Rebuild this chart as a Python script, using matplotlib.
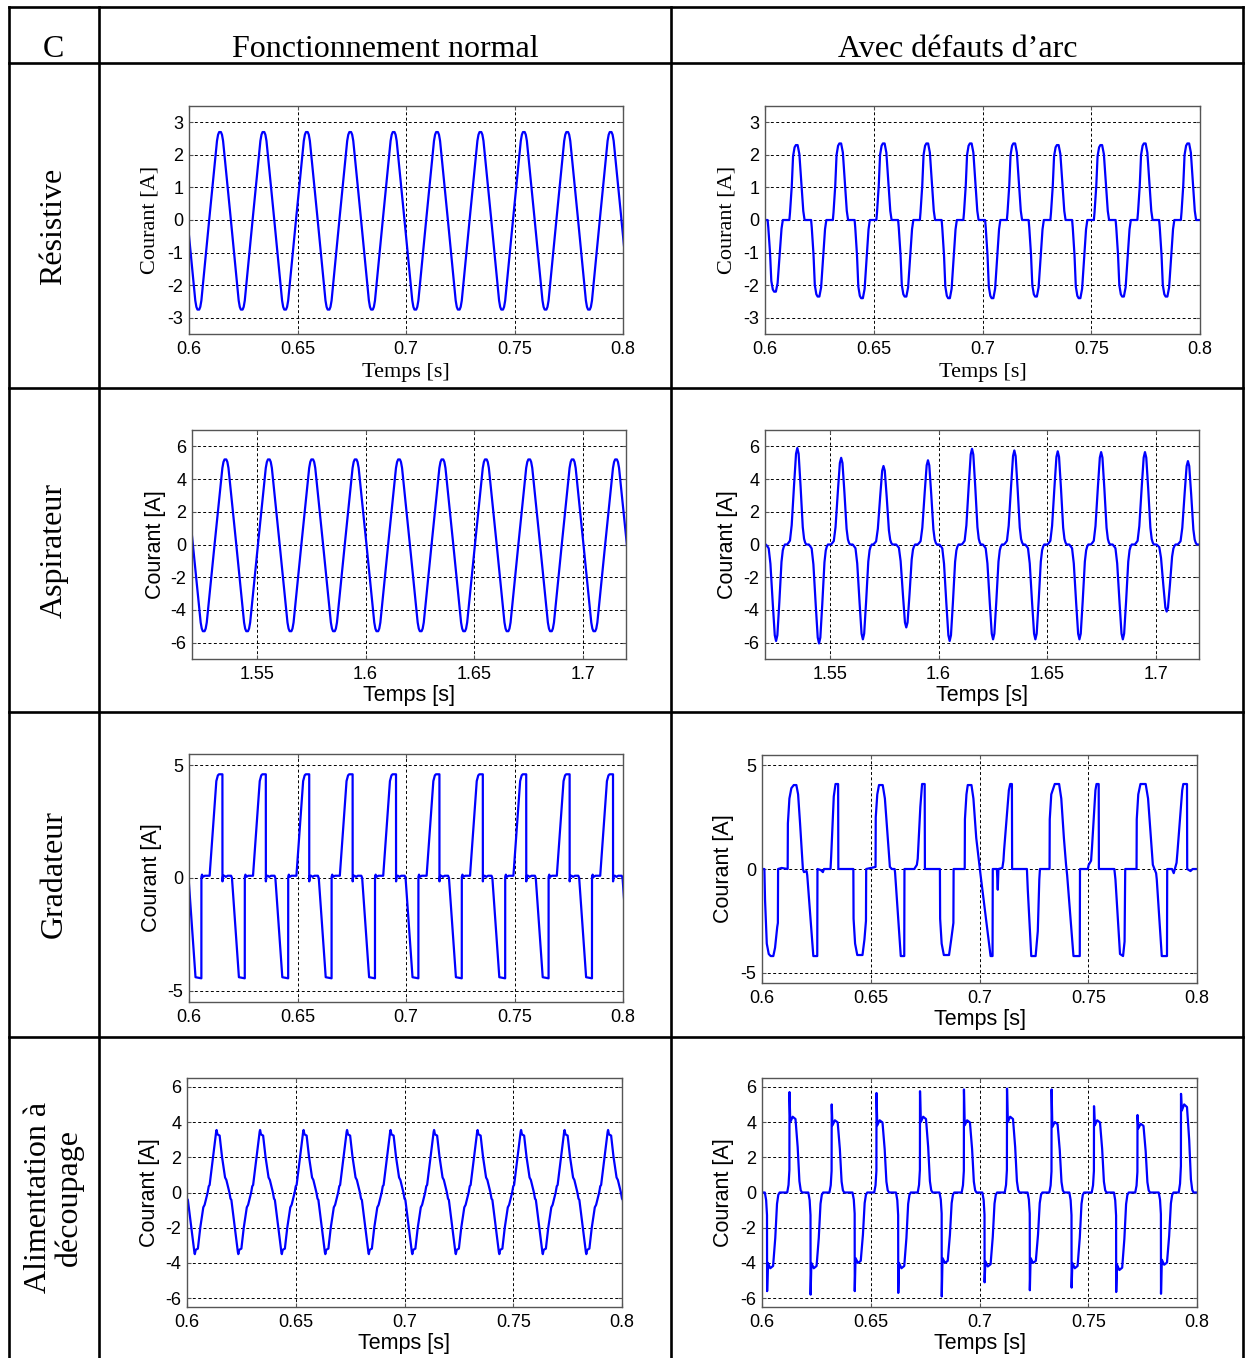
"""Courants de charge : fonctionnement normal / avec défauts d'arc (tableau 4x2)."""

import numpy as np
import matplotlib

matplotlib.use("Agg")
import matplotlib.pyplot as plt
from matplotlib.lines import Line2D

W, H = 1245, 1358
SERIF = "Liberation Serif"
SANS = "Liberation Sans"
BLUE = "#0000ff"
HALF = 0.01  # half period at 50 Hz

plt.rcParams["axes.unicode_minus"] = False

# ---------------------------------------------------------------- table text
col_titles = ["C", "Fonctionnement normal", "Avec défauts d’arc"]
row_titles = ["Résistive", "Aspirateur", "Gradateur", "Alimentation à\ndécoupage"]
ylabel_txt = "Courant [A]"
xlabel_txt = "Temps [s]"

# ---------------------------------------------------------------- ticks
t06_ticks = [0.6, 0.65, 0.7, 0.75, 0.8]
t06_labels = ["0.6", "0.65", "0.7", "0.75", "0.8"]
t15_ticks = [1.55, 1.6, 1.65, 1.7]
t15_labels = ["1.55", "1.6", "1.65", "1.7"]
y3_ticks = [-3, -2, -1, 0, 1, 2, 3]
y6_ticks = [-6, -4, -2, 0, 2, 4, 6]
y5_ticks = [-5, 0, 5]

# ---------------------------------------------------------------- waveform shapes
# rounded triangle half-wave, relative to the zero crossing, normalised to the peak
tri_t = [0, 0.0036, 0.0041, 0.0046, 0.0054, 0.0059, 0.0064, 0.0100]
tri_v = [0, 0.90, 0.97, 1.0, 1.0, 0.97, 0.90, 0]
# resistive arc pulse, relative to arc ignition
res_arc_t = [0, 0.0003, 0.0011, 0.0017, 0.0024, 0.0030, 0.0038, 0.0046, 0.0055, 0.0064, 0.0070]
res_arc_v = [0, 0.10, 0.45, 0.85, 0.97, 1.0, 1.0, 0.88, 0.50, 0.12, 0]
# vacuum-cleaner arc pulse, relative to its peak
vac_arc_t = [-0.0047, -0.0040, -0.0034, -0.0026, -0.0015, -0.0006, 0, 0.0006,
             0.0015, 0.0025, 0.0031, 0.0036, 0.0041]
vac_arc_v = [0, 0.02, 0.04, 0.20, 0.62, 0.94, 1.0, 0.94, 0.60, 0.18, 0.06, 0.02, 0]
# dimmer, one full period in amperes, relative to the start of the negative ramp
grad_t = [0, 0.0032, 0.0059, 0.00592, 0.0062, 0.0066, 0.0075, 0.0097, 0.0128, 0.0135,
          0.0140, 0.0156, 0.01562, 0.0159, 0.0165, 0.0172, 0.0180, 0.0196, 0.0200]
grad_v = [0, -4.40, -4.45, 0.05, 0.15, 0.05, 0.10, 0.10, 4.30, 4.55,
          4.60, 4.60, -0.15, 0.10, 0.10, 0.05, 0.10, 0.10, 0]
# switched-mode supply half-wave, relative to the zero crossing
smps_t = [0, 0.0005, 0.0009, 0.0025, 0.0039, 0.0041, 0.0045, 0.0055, 0.0066, 0.0080, 0.0086, 0.0100]
smps_v = [0, 0.10, 0.12, 0.57, 0.97, 1.0, 0.93, 0.91, 0.57, 0.24, 0.20, 0]

# ---------------------------------------------------------------- per-cycle values
res_norm_t0 = 0.5893
res_norm_amp = [2.7, -2.75, 2.7, -2.75, 2.7, -2.75, 2.7, -2.75, 2.7, -2.75, 2.7,
                -2.75, 2.7, -2.75, 2.7, -2.75, 2.7, -2.75, 2.7, -2.75, 2.7, -2.75]

res_arc_t0 = 0.6012
res_arc_amp = [-2.2, 2.3, -2.35, 2.35, -2.4, 2.35, -2.35, 2.35, -2.4, 2.35,
               -2.4, 2.35, -2.35, 2.3, -2.4, 2.3, -2.35, 2.35, -2.35, 2.35]

vac_norm_t0 = 1.5104
vac_norm_amp = [5.2, -5.3, 5.2, -5.3, 5.2, -5.3, 5.2, -5.3, 5.2, -5.3, 5.2,
                -5.3, 5.2, -5.3, 5.2, -5.3, 5.2, -5.3, 5.2, -5.3, 5.2, -5.3]

vac_arc_peak_t = [1.5251, 1.5349, 1.5449, 1.5551, 1.5651, 1.5746, 1.5851, 1.5951, 1.6051, 1.6154,
                  1.6251, 1.6349, 1.6446, 1.6549, 1.6649, 1.6749, 1.6849, 1.6951, 1.7051, 1.7149]
vac_arc_amp = [-5.9, 5.9, -6.05, 5.3, -5.8, 4.8, -5.07, 5.15, -5.9, 5.85,
               -5.8, 5.75, -5.8, 5.7, -5.8, 5.65, -5.8, 5.65, -4.1, 5.1]

grad_norm_t0 = 0.5998
grad_norm_cycles = 11

grad_arc_pts = [
    (0.6000, 0.0), (0.6011, 0.0), (0.6014, -1.5), (0.6022, -3.6), (0.6031, -4.1), (0.6040, -4.2),
    (0.6052, -4.2), (0.6060, -3.8), (0.6070, -2.8), (0.6073, -2.6), (0.6074, 0.0), (0.6090, 0.05),
    (0.6118, 0.0), (0.6119, 2.2), (0.6126, 3.4), (0.6135, 3.9), (0.6146, 4.05), (0.6158, 4.05),
    (0.6166, 3.6), (0.6175, 2.2), (0.6183, 0.8), (0.6188, 0.0), (0.6193, -0.15), (0.6205, -0.1),
    (0.6208, -0.3), (0.6236, -4.2), (0.6254, -4.2), (0.6255, 0.0), (0.6270, -0.05), (0.6280, -0.15),
    (0.6285, 0.0), (0.6315, 0.0), (0.6318, 0.6), (0.6330, 3.5), (0.6338, 4.1), (0.6350, 4.1),
    (0.6351, 0.0), (0.6420, 0.0), (0.6421, -2.4), (0.6428, -3.6), (0.6438, -4.15), (0.6462, -4.15),
    (0.6471, -3.4), (0.6478, -2.5), (0.6479, 0.0), (0.6500, 0.05), (0.6522, 0.1), (0.6523, 2.5),
    (0.6530, 3.6), (0.6538, 4.05), (0.6555, 4.05), (0.6565, 3.4), (0.6578, 1.5), (0.6588, 0.1),
    (0.6597, 0.0), (0.6610, 0.0), (0.6612, -0.2), (0.6638, -4.2), (0.6654, -4.2), (0.6655, 0.0),
    (0.6700, 0.0), (0.6712, 0.2), (0.6716, 0.5), (0.6728, 3.0), (0.6736, 4.1), (0.6748, 4.1),
    (0.6749, 0.0), (0.6818, 0.0), (0.6819, -2.4), (0.6826, -3.6), (0.6836, -4.15), (0.6860, -4.15),
    (0.6870, -3.4), (0.6880, -2.6), (0.6881, 0.0), (0.6932, 0.0), (0.6933, 2.4), (0.6940, 3.6),
    (0.6946, 4.05), (0.6963, 4.05), (0.6972, 3.4), (0.6985, 1.5), (0.6998, 0.3), (0.7005, -0.3),
    (0.7051, -4.2), (0.7060, -4.2), (0.7061, 0.0), (0.7080, 0.0), (0.7084, -1.0), (0.7087, 0.0),
    (0.7105, 0.05), (0.7110, 0.4), (0.7113, 0.9), (0.7135, 3.8), (0.7141, 4.1), (0.7149, 4.1),
    (0.7150, 0.0), (0.7218, 0.0), (0.7222, -1.0), (0.7238, -4.2), (0.7258, -4.2), (0.7268, -3.0),
    (0.7275, -0.5), (0.7278, 0.0), (0.7322, 0.0), (0.7323, 2.4), (0.7330, 3.6), (0.7346, 4.1),
    (0.7366, 4.1), (0.7376, 3.4), (0.7388, 1.5), (0.7398, 0.2), (0.7403, -0.3), (0.7432, -4.2),
    (0.7461, -4.2), (0.7462, 0.0), (0.7498, 0.0), (0.7502, 0.2), (0.7513, 0.4), (0.7517, 1.0),
    (0.7533, 3.8), (0.7538, 4.1), (0.7548, 4.1), (0.7549, 0.0), (0.7620, 0.0), (0.7625, -0.5),
    (0.7646, -4.1), (0.7660, -4.2), (0.7667, -3.5), (0.7670, 0.0), (0.7722, 0.0), (0.7723, 2.4),
    (0.7730, 3.6), (0.7740, 4.1), (0.7764, 4.1), (0.7775, 3.4), (0.7788, 1.5), (0.7797, 0.2),
    (0.7812, -0.2), (0.7815, -0.5), (0.7838, -4.2), (0.7862, -4.2), (0.7863, 0.0), (0.7885, 0.0),
    (0.7893, -0.2), (0.7898, 0.0), (0.7906, 0.3), (0.7910, 0.8), (0.7932, 3.8), (0.7937, 4.1),
    (0.7954, 4.1), (0.7955, 0.0), (0.7970, -0.1), (0.7980, 0.0), (0.8000, 0.0),
]

smps_norm_t0 = 0.5895
smps_norm_amp = [3.55, -3.5, 3.55, -3.5, 3.55, -3.5, 3.55, -3.5, 3.55, -3.5, 3.55,
                 -3.5, 3.55, -3.5, 3.55, -3.5, 3.55, -3.5, 3.55, -3.5, 3.55, -3.5]

smps_arc_spike_t = [0.6023, 0.6126, 0.6223, 0.6320, 0.6426, 0.6526, 0.6626, 0.6726, 0.6826, 0.6928,
                    0.7023, 0.7126, 0.7231, 0.7331, 0.7423, 0.7526, 0.7628, 0.7726, 0.7834, 0.7926]
smps_arc_spike = [-5.6, 5.7, -5.8, 5.0, -5.6, 5.65, -5.7, 5.75, -5.9, 5.85,
                  -5.1, 5.9, -5.55, 5.85, -5.4, 4.9, -5.65, 4.4, -5.75, 5.6]
smps_arc_plateau = [-4.3, 4.3, -4.3, 4.1, -4.0, 4.1, -4.3, 4.3, -4.0, 4.1,
                    -4.2, 4.3, -4.0, 4.0, -4.3, 4.1, -4.4, 3.9, -4.1, 5.0]
# shape around a spike, relative to the spike time, normalised to the plateau
spike_t = [-0.0010, -0.0004, 0.0, 0.0015, 0.0028, 0.0038, 0.0046, 0.0052, 0.0058]
spike_v = [0, 0.10, 0.30, 1.0, 0.97, 0.60, 0.15, 0.03, 0]


# ---------------------------------------------------------------- helpers
def pulse_train(starts, amps, shape_t, shape_v):
    """Place a scaled copy of one shape at each start time."""
    st = np.asarray(shape_t)
    sv = np.asarray(shape_v)
    t = np.concatenate([s + st for s in starts])
    v = np.concatenate([a * sv for a in amps])
    return t, v


def pad_zero(t, v, lo, hi):
    """Extend a pulse train with zero current up to the axis limits."""
    return np.r_[lo, t, hi], np.r_[0.0, v, 0.0]


def spike_train(times, spikes, plateaus):
    ts, vs = [], []
    for t0, s, p in zip(times, spikes, plateaus):
        st = t0 + np.asarray(spike_t)
        sv = p * np.asarray(spike_v)
        # vertical spike just after the switching instant, then the plateau
        st = np.insert(st, 3, [t0 + 0.00005, t0 + 0.0004])
        sv = np.insert(sv, 3, [s, 0.93 * p])
        ts.append(st)
        vs.append(sv)
    return np.concatenate(ts), np.concatenate(vs)


def fig_box(l, r, t, b):
    return [l / W, 1 - b / H, (r - l) / W, (b - t) / H]


def fig_line(x0, y0, x1, y1):
    fig.add_artist(Line2D([x0 / W, x1 / W], [1 - y0 / H, 1 - y1 / H],
                          transform=fig.transFigure, color="black", lw=1.9,
                          solid_capstyle="projecting"))


def make_axes(box, xlim, ylim, xt, xl, yt, ylab_x, xlab_y, lab_font):
    ax = fig.add_axes(fig_box(*box))
    ax.set_xlim(*xlim)
    ax.set_ylim(*ylim)
    ax.set_xticks(xt)
    ax.set_xticklabels(xl)
    ax.set_yticks(yt)
    ax.set_yticklabels([str(y) for y in yt])
    ax.tick_params(direction="in", length=3, width=0.8, color="#555555",
                   labelsize=13, top=True, right=True)
    ax.tick_params(axis="x", pad=5)
    ax.tick_params(axis="y", pad=4)
    for lab in ax.get_xticklabels() + ax.get_yticklabels():
        lab.set_fontfamily(SANS)
    for sp in ax.spines.values():
        sp.set_color("#555555")
        sp.set_linewidth(1.0)
    ax.grid(True, color="black", linestyle=(0, (3, 2.5)), linewidth=0.7)
    lab_size = 16 if lab_font == SERIF else 15.5
    ax.set_ylabel(ylabel_txt, fontfamily=lab_font, fontsize=lab_size, va="center")
    ax.yaxis.set_label_coords(ylab_x / W, 1 - (box[2] + box[3]) / 2 / H,
                              transform=fig.transFigure)
    if xlab_y is not None:
        ax.set_xlabel(xlabel_txt, fontfamily=lab_font, fontsize=lab_size, va="center")
        ax.xaxis.set_label_coords((box[0] + box[1]) / 2 / W, 1 - xlab_y / H,
                                  transform=fig.transFigure)
    return ax


# ---------------------------------------------------------------- figure
fig = plt.figure(figsize=(W / 100, H / 100), dpi=100)

# table grid
for x in (9, 99, 671, 1243):
    fig_line(x, 7, x, H + 5)
for y in (7, 63, 388, 712, 1037):
    fig_line(9, y, 1243, y)

for x, txt in zip((53, 385, 958), col_titles):
    fig.text(x / W, 1 - 57 / H, txt, ha="center", va="baseline",
             fontfamily=SERIF, fontsize=23)
for y, txt in zip((226, 550, 874, 1197), row_titles):
    fig.text(54 / W, 1 - y / H, txt, ha="center", va="center", rotation=90,
             multialignment="center", linespacing=1.05, fontfamily=SERIF, fontsize=23)

LW = 1.6

# Résistive
ax = make_axes((189, 623, 106, 334), (0.6, 0.8), (-3.5, 3.5), t06_ticks, t06_labels,
               y3_ticks, 150, 372, SERIF)
starts = res_norm_t0 + HALF * np.arange(len(res_norm_amp))
ax.plot(*pulse_train(starts, res_norm_amp, tri_t, tri_v), color=BLUE, lw=LW)

ax = make_axes((765, 1200, 106, 334), (0.6, 0.8), (-3.5, 3.5), t06_ticks, t06_labels,
               y3_ticks, 727, 372, SERIF)
starts = res_arc_t0 + HALF * np.arange(len(res_arc_amp))
t, v = pulse_train(starts, res_arc_amp, res_arc_t, res_arc_v)
ax.plot(*pad_zero(t, v, 0.6, 0.8), color=BLUE, lw=LW)

# Aspirateur
ax = make_axes((192, 626, 430, 659), (1.52, 1.72), (-7, 7), t15_ticks, t15_labels,
               y6_ticks, 156, 696, SANS)
starts = vac_norm_t0 + HALF * np.arange(len(vac_norm_amp))
ax.plot(*pulse_train(starts, vac_norm_amp, tri_t, tri_v), color=BLUE, lw=LW)

ax = make_axes((765, 1199, 430, 659), (1.52, 1.72), (-7, 7), t15_ticks, t15_labels,
               y6_ticks, 728, 696, SANS)
t, v = pulse_train(vac_arc_peak_t, vac_arc_amp, vac_arc_t, vac_arc_v)
ax.plot(*pad_zero(t, v, 1.52, 1.72), color=BLUE, lw=LW)

# Gradateur
ax = make_axes((189, 623, 754, 1002), (0.6, 0.8), (-5.5, 5.5), t06_ticks, t06_labels,
               y5_ticks, 152, None, SANS)
starts = grad_norm_t0 + 2 * HALF * np.arange(grad_norm_cycles)
ax.plot(*pulse_train(starts, [1.0] * grad_norm_cycles, grad_t, grad_v), color=BLUE, lw=LW)

ax = make_axes((762, 1197, 755, 983), (0.6, 0.8), (-5.5, 5.5), t06_ticks, t06_labels,
               y5_ticks, 723, 1020, SANS)
pts = np.array(grad_arc_pts)
ax.plot(pts[:, 0], pts[:, 1], color=BLUE, lw=LW)

# Alimentation à découpage
ax = make_axes((187, 622, 1078, 1307), (0.6, 0.8), (-6.5, 6.5), t06_ticks, t06_labels,
               y6_ticks, 149, 1344, SANS)
starts = smps_norm_t0 + HALF * np.arange(len(smps_norm_amp))
ax.plot(*pulse_train(starts, smps_norm_amp, smps_t, smps_v), color=BLUE, lw=LW)

ax = make_axes((762, 1197, 1078, 1307), (0.6, 0.8), (-6.5, 6.5), t06_ticks, t06_labels,
               y6_ticks, 723, 1344, SANS)
t, v = spike_train(smps_arc_spike_t, smps_arc_spike, smps_arc_plateau)
ax.plot(*pad_zero(t, v, 0.6, 0.8), color=BLUE, lw=LW)

fig.savefig("out.png", dpi=100)
